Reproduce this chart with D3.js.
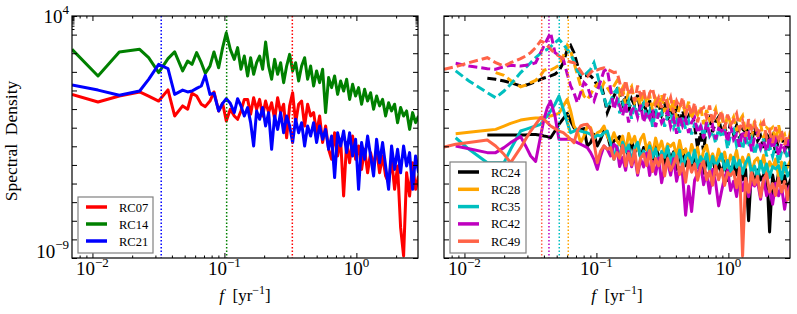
<!DOCTYPE html>
<html>
<head>
<meta charset="utf-8">
<script src="https://cdn.jsdelivr.net/npm/d3@7"></script>
<style>
	body { margin: 0; background: #fff; }
	text { font-family: 'Liberation Serif', 'DejaVu Serif', serif; fill: #000; }
</style>
</head>
<body>
<div id="chart"></div>
<script>
// frequencies in yr^-1 : low part differs per panel, high part shared
const freqLowLeft = [0.00700, 0.01102, 0.01598, 0.02279, 0.02666, 0.03176, 0.03736, 0.04197, 0.04826, 0.05265, 0.05679, 0.06160, 0.06680, 0.07163, 0.07772, 0.08334, 0.09042, 0.09694, 0.1033, 0.1108, 0.1188, 0.1259, 0.1335, 0.1415]
const freqLowRight = [0.00700, 0.00858, 0.01082, 0.01491, 0.01724, 0.01994, 0.02240, 0.02666, 0.02909, 0.03176, 0.03464, 0.03779, 0.04005, 0.04245, 0.04498, 0.04853, 0.05202, 0.05612, 0.06018, 0.06378, 0.06760, 0.07163, 0.07592, 0.08045, 0.08531, 0.09042, 0.09583, 0.1016, 0.1076, 0.1141, 0.1209, 0.1281, 0.1358, 0.1431]
const freqHigh = [0.1499, 0.1580, 0.1665, 0.1754, 0.1848, 0.1948, 0.2052, 0.2163, 0.2279, 0.2402, 0.2531, 0.2667, 0.2810, 0.2961, 0.3120, 0.3288, 0.3464, 0.3651, 0.3846, 0.4053, 0.4271, 0.4500, 0.4742, 0.4996, 0.5265, 0.5548, 0.5845, 0.6160, 0.6491, 0.6840, 0.7207, 0.7595, 0.8003, 0.8433, 0.8886, 0.9363, 0.9865, 1.039, 1.095, 1.154, 1.216, 1.281, 1.350, 1.423, 1.499, 1.580, 1.665, 1.754, 1.848, 1.948, 2.052, 2.163, 2.279, 2.402, 2.530, 2.667, 2.810, 2.961]

// spectral density, stored as log10 values
const rc07 = [-0.21, -0.62, -0.30, -0.08, -0.30, -0.57, 0.03, -1.37, -0.83, -1.01, -0.15, -0.30, -0.74, -0.87, -0.57, -0.08, -1.10, -0.69, -1.64, -1.01, -1.37, -1.55, -1.10, -0.48,
	-0.48, -1.28, -0.39, -1.01, -0.48, -1.37, -0.57, -1.19, -0.66, -1.55, -0.39, -1.19, -0.74, -2.54, -0.83, -0.12, -1.73, -0.74, -0.57, -1.91, -0.74, -1.37, -1.19, -2.27, -1.37, -2.80, -1.91, -3.16, -3.70, -2.27, -3.52, -2.62, -5.67, -2.80, -3.88, -2.45, -3.70, -2.98, -4.24, -3.16, -4.42, -3.34, -4.06, -3.16, -4.42, -3.52, -4.59, -4.95, -3.70, -5.31, -4.06, -7.37, -8.89, -4.42, -5.67, -3.88, -5.31, -4.59]
const rc14 = [2.21, 0.78, 2.07, 2.21, 1.76, 0.96, 1.71, 2.07, 1.05, 1.58, 1.40, 2.03, 1.49, 0.92, 1.31, 2.07, 1.22, 2.30, 3.10, 2.21, 1.67, 2.30, 1.14, 1.85,
	0.78, 1.76, 0.87, 1.49, 1.85, 1.14, 2.60, 1.31, 0.60, 1.67, 0.87, 1.49, 0.42, 1.31, 1.94, 1.05, 1.49, 0.51, 1.31, 1.76, 0.60, 1.31, 0.24, 1.05, 0.42, 1.14, -1.19, 0.69, 0.15, 0.78, -0.21, 0.51, -0.03, 0.60, -0.48, 0.33, -0.30, 0.15, -0.74, 0.06, -0.57, -0.12, -1.01, -0.30, -0.83, -0.48, -1.37, -0.66, -1.10, -0.74, -1.73, -0.92, -1.37, -1.10, -2.09, -1.19, -1.73, -1.37]
const rc21 = [0.29, 0.02, -0.26, -0.03, 0.60, 1.40, 1.17, -0.21, 0.02, -0.08, -0.03, 0.11, 0.24, 0.81, -0.21, -0.15, -1.10, -0.69, -0.44, -0.69, -1.19, -0.44, -0.83, -1.37,
	-0.92, -1.73, -2.98, -1.10, -1.55, -0.92, -1.91, -1.19, -3.16, -1.37, -2.09, -1.19, -2.27, -1.37, -1.91, -2.80, -1.55, -2.27, -1.73, -2.98, -1.91, -2.45, -1.73, -2.80, -1.91, -2.62, -2.09, -3.16, -2.45, -4.68, -2.27, -2.98, -2.18, -3.34, -2.27, -3.52, -2.62, -5.31, -2.80, -3.70, -2.45, -3.52, -4.59, -2.62, -3.88, -2.80, -4.06, -5.31, -2.98, -4.24, -3.16, -4.42, -2.98, -4.06, -3.34, -5.31, -3.52, -4.42]

const rc24 = [null, null, null, -2.39, -2.39, -2.39, -2.39, -2.39, -2.39, -2.37, -2.37, -2.41, -2.45, -2.48, -2.54, -2.18, -1.82, -1.51, -1.23, -1.64, -2.00, -2.18, -2.09, -2.05, -2.98, -2.80, -2.36, -2.98, -2.62, -2.18, -2.36, -3.07, -2.71, -2.62,
	-2.48, -3.31, -2.95, -3.58, -2.72, -3.35, -2.89, -3.62, -3.06, -3.19, -3.03, -3.76, -2.90, -3.63, -3.36, -4.00, -3.13, -3.67, -3.30, -4.24, -3.47, -3.21, -4.04, -3.68, -4.21, -3.45, -4.08, -3.61, -4.45, -3.78, -4.12, -3.55, -4.49, -3.92, -4.46, -3.79, -4.83, -4.16, -3.99, -4.53, -3.86, -4.80, -4.23, -7.00, -4.10, -5.04, -4.27, -4.81, -4.54, -4.17, -7.60, -4.54, -5.38, -4.41, -4.95, -4.58, -5.32, -4.75]
const rc24Dashed = [null, null, null, 0.65, 0.60, 0.51, 0.42, 0.24, 0.28, 0.37, 0.47, 0.60, 0.67, 0.72, 0.78, 0.87, 1.05, 1.49, 2.21, 2.42, 2.03, 1.40, 0.69, 0.78, 0.81, 0.78, 0.60, 0.24, 0.42, -0.30, -1.19, -0.74, -0.30, 0.06,
	-0.08, -0.72, -0.27, -1.11, -0.46, -0.80, -0.24, -1.19, -0.63, -1.17, -0.52, -1.56, -0.91, -0.75, -1.29, -0.64, -1.58, -1.03, -1.37, -0.91, -1.86, -1.10, -1.64, -1.39, -1.03, -1.88, -3.10, -2.26, -3.30, -1.85, -1.49, -2.24, -1.68, -1.43, -2.27, -1.91, -2.56, -1.70, -2.35, -1.89, -2.63, -2.08, -2.22, -2.07, -2.81, -1.95, -2.70, -2.44, -3.09, -2.23, -2.77, -2.42, -3.36, -2.61, -2.35, -3.19, -2.84, -3.38]
const rc28 = [null, -2.32, -2.25, -2.14, -2.09, -1.91, -1.77, -1.59, -1.55, -1.51, -1.48, -1.46, -1.43, -1.37, -1.37, -1.30, -1.23, -0.83, -0.48, -1.10, -1.91, -2.18, -2.80, -2.45, -1.91, -2.00, -2.62, -2.27, -2.18, -1.91, -2.45, -2.80, -2.27, -2.71,
	-2.92, -2.45, -3.28, -2.31, -2.83, -2.46, -3.19, -2.62, -2.35, -3.18, -2.80, -3.43, -2.56, -3.19, -2.72, -3.45, -2.87, -3.00, -2.83, -3.56, -2.69, -3.42, -3.14, -3.77, -2.90, -3.43, -3.06, -3.98, -3.21, -2.94, -3.77, -3.40, -3.93, -3.15, -3.78, -3.31, -4.14, -3.47, -3.80, -3.22, -4.15, -3.58, -4.11, -3.44, -4.46, -3.79, -3.62, -4.15, -3.48, -4.41, -3.83, -4.16, -3.69, -4.62, -3.85, -4.38, -4.10, -3.74]
const rc28Dashed = [null, null, null, null, 0.96, 0.81, 0.54, 0.20, 0.29, 0.42, 0.54, 0.81, 1.08, 1.14, 1.10, 1.22, 1.35, 1.85, 2.42, 2.12, 1.49, 0.87, 0.24, -0.30, -0.48, -0.21, 0.15, 0.33, -0.03, 0.42, 0.15, -0.12, 0.24, 0.51,
	-0.22, 0.14, -0.81, -0.05, 0.21, -0.63, -0.28, -0.82, -0.06, -0.70, -0.25, -1.09, -0.43, -0.77, -0.22, -1.16, -0.60, -1.14, -0.48, -1.53, -0.87, -0.71, -1.25, -0.60, -1.54, -0.98, -1.32, -0.87, -1.81, -1.05, -1.59, -1.34, -0.98, -1.82, -1.36, -2.21, -1.25, -1.79, -1.43, -2.18, -1.62, -1.36, -2.20, -1.85, -2.49, -1.63, -2.27, -1.82, -2.56, -2.00, -2.14, -1.99, -2.73, -1.87, -2.61, -2.36, -3.00, -2.14]
const rc35 = [null, -2.54, -3.16, -3.88, -3.88, -3.88, -3.16, -2.18, -2.09, -2.00, -1.91, -1.82, -1.55, -1.37, -1.10, -0.74, -0.30, -1.01, -1.73, -2.27, -2.18, -2.09, -2.18, -2.23, -2.27, -2.36, -2.54, -2.41, -2.45, -2.27, -2.18, -2.80, -3.70, -2.98,
	-3.66, -2.78, -3.30, -2.93, -3.85, -3.07, -2.79, -3.61, -3.24, -3.76, -2.98, -3.60, -3.13, -3.95, -3.27, -3.59, -3.01, -3.94, -3.36, -3.88, -3.20, -4.22, -3.55, -3.37, -3.89, -3.21, -4.14, -3.56, -3.88, -3.40, -4.32, -3.55, -4.07, -3.79, -3.41, -4.24, -3.76, -4.58, -3.60, -4.12, -3.75, -4.47, -3.89, -3.61, -4.44, -4.06, -4.68, -3.80, -4.42, -3.95, -4.67, -4.09, -4.21, -4.04, -4.76, -3.88, -4.60, -4.32]
const rc35Dashed = [null, 1.05, 0.51, -0.12, -0.39, -0.03, 0.33, 0.96, 1.22, 1.49, 1.76, 1.99, 2.12, 2.21, 2.35, 2.57, 2.75, 2.48, 2.21, 1.94, 1.58, 1.05, 0.87, 0.78, 0.96, 1.14, 1.49, 0.87, 0.15, -0.39, -0.92, -0.57, -0.12, 0.06,
	-1.23, -0.68, -1.02, -0.57, -1.52, -0.77, -1.31, -1.06, -0.71, -1.55, -1.10, -1.95, -1.00, -1.54, -1.19, -1.94, -1.39, -1.13, -1.98, -1.63, -2.27, -1.42, -2.07, -1.62, -2.36, -1.81, -1.96, -1.80, -2.55, -1.70, -2.45, -2.19, -2.84, -1.99, -2.53, -2.18, -3.13, -2.38, -2.12, -2.97, -2.62, -3.16, -2.41, -3.06, -2.61, -3.45, -2.80, -3.15, -2.59, -3.54, -2.99, -3.54, -2.88, -3.93, -3.28, -3.12, -3.67, -3.02]
const rc42 = [null, -2.98, -3.13, -3.34, -3.34, -3.07, -2.80, -2.48, -2.98, -3.52, -3.81, -2.45, -1.55, -0.92, -0.57, -1.37, -2.62, -2.62, -2.62, -2.62, -2.71, -2.80, -2.89, -2.98, -3.07, -3.34, -3.70, -4.24, -3.52, -2.98, -3.16, -3.52, -2.89, -3.07,
	-4.09, -3.60, -4.29, -3.28, -4.10, -3.48, -4.56, -3.68, -4.11, -3.36, -4.57, -3.82, -4.50, -3.63, -4.96, -4.09, -3.86, -4.55, -3.67, -4.88, -4.13, -4.56, -6.70, -5.15, -6.50, -4.82, -4.47, -3.98, -5.06, -4.44, -5.52, -4.25, -4.94, -6.20, -5.40, -4.65, -4.29, -5.37, -4.88, -5.70, -4.56, -5.38, -4.76, -5.71, -4.96, -5.13, -4.90, -5.84, -4.71, -5.65, -5.30, -6.11, -4.98, -5.66, -5.18, -6.38, -5.38, -5.02]
const rc42Dashed = [null, 1.46, 1.31, 1.17, 1.14, 1.28, 1.35, 1.31, 1.35, 1.40, 1.49, 2.03, 2.39, 2.75, 3.10, 2.03, 1.89, 1.67, 0.87, 0.24, -0.12, -0.66, -0.12, 0.42, 0.24, -0.30, -0.57, -0.03, 0.51, 1.05, 1.14, 0.06, -1.01, -0.48,
	-0.81, -1.35, -0.69, -1.72, -1.06, -0.90, -1.44, -0.77, -1.71, -1.15, -1.49, -1.02, -1.96, -1.20, -1.74, -1.48, -1.11, -1.95, -1.49, -2.33, -1.36, -1.90, -1.54, -2.28, -1.71, -1.45, -2.29, -1.93, -2.57, -1.70, -2.34, -1.88, -2.62, -2.05, -2.19, -2.03, -2.77, -1.90, -2.64, -2.38, -3.02, -2.16, -2.69, -2.33, -3.27, -2.51, -2.24, -3.08, -2.72, -3.26, -2.49, -3.13, -2.67, -3.51, -2.85, -3.18, -2.62, -3.56]
const rc49 = [-3.04, -2.89, -2.80, -2.66, -2.98, -3.43, -3.88, -3.07, -2.62, -2.18, -1.82, -1.46, -1.55, -1.73, -1.91, -2.05, -2.18, -2.27, -2.45, -2.62, -2.80, -2.18, -1.91, -1.84, -1.82, -2.09, -2.80, -3.88, -3.25, -2.98, -3.16, -3.07, -3.70, -3.34,
	-3.64, -2.95, -4.06, -3.37, -4.01, -3.20, -4.43, -3.62, -3.41, -4.04, -3.23, -4.35, -3.66, -4.05, -3.48, -4.59, -3.66, -4.29, -3.97, -3.52, -4.51, -3.94, -4.93, -3.76, -4.39, -3.95, -4.82, -4.13, -3.80, -4.79, -4.34, -5.09, -4.05, -4.80, -4.23, -5.10, -4.41, -4.56, -4.36, -5.23, -4.18, -8.90, -4.72, -5.47, -4.42, -5.06, -4.61, -5.72, -4.79, -4.46, -5.45, -5.00, -5.64, -4.71, -5.46, -4.89, -5.88, -5.07]
const rc49Dashed = [1.14, 1.28, 1.49, 1.76, 1.49, 1.31, 1.49, 1.71, 1.85, 2.03, 2.30, 2.66, 2.57, 2.42, 2.21, 1.99, 1.85, 1.71, 1.58, 1.53, 1.49, 1.31, 1.05, 0.78, 0.74, 0.96, 1.14, 1.10, 1.17, 1.22, 1.14, 1.05, 0.96, 0.99,
	0.45, -0.30, 0.55, -0.20, 0.06, -0.59, 0.26, -0.29, 0.06, -0.89, -0.14, 0.12, -0.73, -0.38, -0.93, -0.18, -0.83, -0.38, -1.22, -0.57, -0.92, -0.37, -1.32, -0.77, -1.32, -0.66, -1.71, -1.06, -0.91, -1.46, -0.81, -1.76, -1.20, -1.55, -1.10, -2.05, -1.30, -1.85, -1.59, -1.24, -2.09, -1.64, -2.49, -1.54, -2.09, -1.73, -2.48, -1.93, -1.68, -2.53, -2.18, -2.82, -1.97, -2.62, -2.17, -2.92, -2.37, -2.52]

// dominant frequencies (dotted markers)
const peaksLeft = [0.0332, 0.104, 0.327]
const peaksRight = [0.0385, 0.0437, 0.0523, 0.0612]

// tick labels (exponents of 10)
const xTicks = [0.01, 0.1, 1]
const xTickLabels = ['\u22122', '\u22121', '0']
const yTicks = [1e4, 1e-9]
const yTickLabels = ['4', '\u22129']

const freqLeft = freqLowLeft.concat(freqHigh)
const freqRight = freqLowRight.concat(freqHigh)

const leftSeries = [
	{ name: 'RC07', color: '#ff0000', values: rc07 },
	{ name: 'RC14', color: '#008000', values: rc14 },
	{ name: 'RC21', color: '#0000ff', values: rc21 },
]
const rightSeries = [
	{ name: 'RC24', color: '#000000', values: rc24, dashed: rc24Dashed },
	{ name: 'RC28', color: '#ffa500', values: rc28, dashed: rc28Dashed },
	{ name: 'RC35', color: '#00bfbf', values: rc35, dashed: rc35Dashed },
	{ name: 'RC42', color: '#bf00bf', values: rc42, dashed: rc42Dashed },
	{ name: 'RC49', color: '#ff6347', values: rc49, dashed: rc49Dashed },
]

const svgWidth = 797
const svgHeight = 314
const plotTop = 16
const plotBottom = 258

const svg = d3
	.select('#chart')
	.append('svg')
	.attr('width', svgWidth)
	.attr('height', svgHeight)

svg.append('rect').attr('width', svgWidth).attr('height', svgHeight).attr('fill', '#fff')

function minorTicks(lo, hi) {
	const out = []
	for (let d = -3; d <= 1; d++) {
		for (let m = 2; m <= 9; m++) {
			const v = m * Math.pow(10, d)
			if (v > lo && v < hi) out.push(v)
		}
	}
	return out
}

function drawPanel(id, x0, x1, series, freq, peaks, peakColors, opts) {
	const x = d3.scaleLog().domain([0.007, 2.93]).range([x0, x1])
	const y = d3.scaleLog().domain([1e-9, 1e4]).range([plotBottom, plotTop])
	const g = svg.append('g')

	g.append('clipPath')
		.attr('id', 'clip-' + id)
		.append('rect')
		.attr('x', x0)
		.attr('y', plotTop)
		.attr('width', x1 - x0)
		.attr('height', plotBottom - plotTop)

	const plot = g.append('g').attr('clip-path', `url(#clip-${id})`)

	const line = d3
		.line()
		.defined((d) => d[1] !== null)
		.x((d) => x(d[0]))
		.y((d) => y(Math.pow(10, d[1])))

	series.forEach((s) => {
		plot
			.append('path')
			.datum(freq.map((f, i) => [f, s.values[i]]))
			.attr('fill', 'none')
			.attr('stroke', s.color)
			.attr('stroke-width', 3)
			.attr('stroke-linejoin', 'round')
			.attr('d', line)
		if (s.dashed) {
			plot
				.append('path')
				.datum(freq.map((f, i) => [f, s.dashed[i]]))
				.attr('fill', 'none')
				.attr('stroke', s.color)
				.attr('stroke-width', 3)
				.attr('stroke-dasharray', '9,4')
				.attr('d', line)
		}
	})

	plot
		.selectAll('.peak')
		.data(peaks)
		.enter()
		.append('line')
		.attr('class', 'peak')
		.attr('x1', (d) => x(d))
		.attr('x2', (d) => x(d))
		.attr('y1', plotTop)
		.attr('y2', plotBottom)
		.attr('stroke', (d, i) => peakColors[i])
		.attr('stroke-width', 1.5)
		.attr('stroke-dasharray', '1.5,2')

	// axes with inward ticks on all four sides
	const xMinor = minorTicks(0.007, 2.93)
	const yMajor = d3.range(-9, 5).map((e) => Math.pow(10, e))
	const axes = [
		[d3.axisBottom(x), `translate(0,${plotBottom})`, xTicks, xMinor],
		[d3.axisTop(x), `translate(0,${plotTop})`, xTicks, xMinor],
		[d3.axisLeft(y), `translate(${x0},0)`, yMajor, opts.yMinor],
		[d3.axisRight(y), `translate(${x1},0)`, yMajor, opts.yMinor],
	]
	axes.forEach(([axis, tr, major, minor]) => {
		g.append('g')
			.attr('transform', tr)
			.call(axis.tickValues(major).tickSize(-5).tickSizeOuter(0).tickFormat(''))
			.call((a) => a.select('.domain').remove())
		g.append('g')
			.attr('transform', tr)
			.call(axis.tickValues(minor).tickSize(-2.5).tickSizeOuter(0).tickFormat(''))
			.call((a) => a.select('.domain').remove())
	})

	g.append('rect')
		.attr('x', x0)
		.attr('y', plotTop)
		.attr('width', x1 - x0)
		.attr('height', plotBottom - plotTop)
		.attr('fill', 'none')
		.attr('stroke', '#000')
		.attr('stroke-width', 1.2)

	// x tick labels
	xTicks.forEach((v, i) => {
		const t = g.append('text')
			.attr('x', x(v))
			.attr('y', 274.5)
			.attr('text-anchor', 'middle')
			.style('font-size', '19px')
		t.append('tspan').text('10')
		t.append('tspan').attr('dy', -8).style('font-size', '13px').text(xTickLabels[i])
	})

	if (opts.yLabels) {
		yTicks.forEach((v, i) => {
			const t = g.append('text')
				.attr('x', x0 - 3)
				.attr('y', i === 0 ? 22.5 : 257.5)
				.attr('text-anchor', 'end')
				.style('font-size', '19px')
			t.append('tspan').text('10')
			t.append('tspan').attr('dy', -9).style('font-size', '13px').text(yTickLabels[i])
		})
	}

	// x axis title
	const xl = g.append('text')
		.attr('x', (x0 + x1) / 2)
		.attr('y', 301)
		.attr('text-anchor', 'middle')
		.style('font-size', '17px')
		.style('white-space', 'pre')
	xl.append('tspan').style('font-style', 'italic').text('f')
	xl.append('tspan').text('  [yr')
	xl.append('tspan').attr('dy', -7).style('font-size', '12px').text('\u22121')
	xl.append('tspan').attr('dy', 7).text(']')

	// legend
	const lg = g.append('g')
	lg.append('rect')
		.attr('x', opts.legend.x)
		.attr('y', opts.legend.y)
		.attr('width', opts.legend.w)
		.attr('height', opts.legend.h)
		.attr('fill', '#fff')
		.attr('stroke', '#808080')
		.attr('stroke-width', 1.2)
	series.forEach((s, i) => {
		const ly = opts.legend.y0 + i * opts.legend.step
		lg.append('line')
			.attr('x1', opts.legend.x + 8)
			.attr('x2', opts.legend.x + 29)
			.attr('y1', ly)
			.attr('y2', ly)
			.attr('stroke', s.color)
			.attr('stroke-width', 3.5)
		lg.append('text')
			.attr('x', opts.legend.x + 41)
			.attr('y', ly + 4.5)
			.style('font-size', '12.5px')
			.text(s.name)
	})
}

drawPanel('left', 72, 418, leftSeries, freqLeft, peaksLeft, ['#0000ff', '#008000', '#ff0000'], {
	yMinor: [2e3, 3e3, 4e3, 5e3, 6e3, 7e3, 8e3, 9e3],
	yLabels: true,
	legend: { x: 78, y: 197, w: 75, h: 56, y0: 207, step: 17 },
})

drawPanel('right', 444, 790, rightSeries, freqRight, peaksRight, ['#ff6347', '#bf00bf', '#00bfbf', '#ffa500'], {
	yMinor: [],
	yLabels: false,
	legend: { x: 450, y: 162, w: 76, h: 91, y0: 172, step: 17.3 },
})

// y axis title
svg.append('text')
	.attr('transform', 'translate(17,141) rotate(-90)')
	.attr('text-anchor', 'middle')
	.style('font-size', '17.5px')
	.style('white-space', 'pre')
	.text('Spectral  Density')
</script>
</body>
</html>
